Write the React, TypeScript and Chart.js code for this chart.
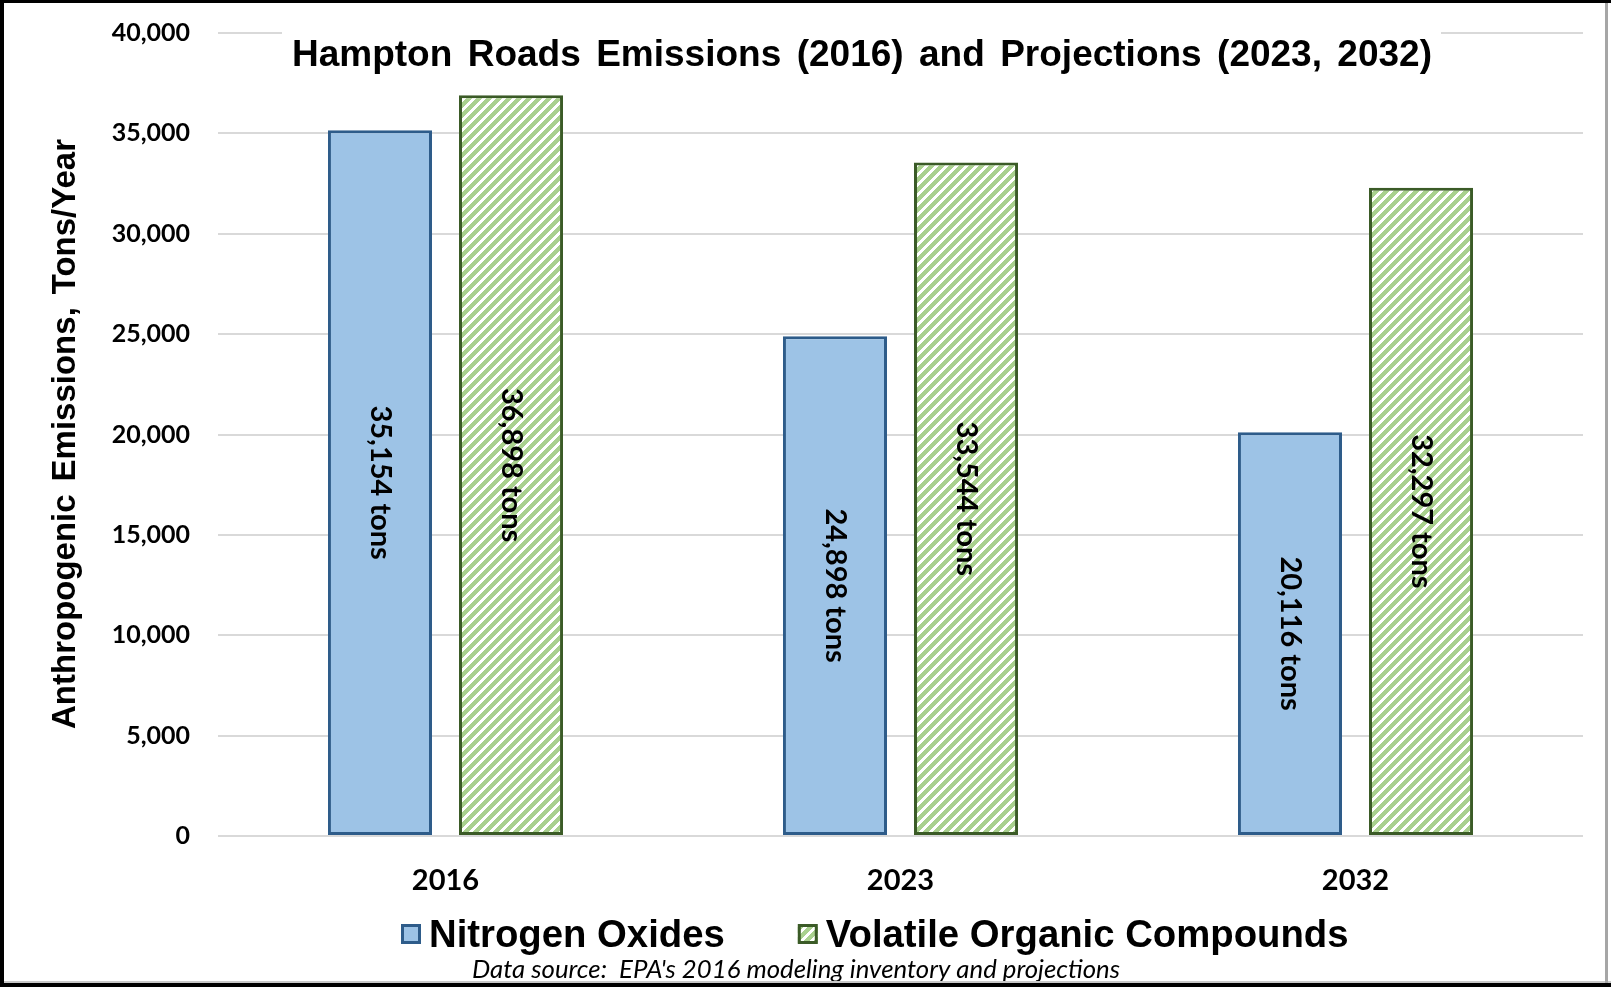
import React, { useEffect, useRef } from 'react';
import { Chart, registerables } from 'chart.js';

Chart.register(...registerables);

const categories = ['2016', '2023', '2032'];
const noxValues = [35154, 24898, 20116];
const vocValues = [36898, 33544, 32297];
const seriesNames = ['Nitrogen Oxides', 'Volatile Organic Compounds'];
const yMin = 0;
const yMax = 40000;
const yStep = 5000;
const chartTitle = 'Hampton Roads Emissions (2016) and Projections (2023, 2032)';
const yAxisTitle = 'Anthropogenic Emissions, Tons/Year';
const sourceNote = "Data source:  EPA's 2016 modeling inventory and projections";
const labelUnit = 'tons';

const W = 1611;
const H = 987;

const NOX_FILL = '#9DC3E6';
const NOX_BORDER = '#2E5C8A';
const VOC_GREEN = [169, 209, 142];
const VOC_BORDER = '#3B5B27';

function makeStripePattern(ctx: CanvasRenderingContext2D) {
  const n = 10;
  const c = document.createElement('canvas');
  c.width = n;
  c.height = n;
  const g = c.getContext('2d')!;
  const img = g.createImageData(n, n);
  for (let y = 0; y < n; y++) {
    for (let x = 0; x < n; x++) {
      const white = (x + y) % n < 4;
      const i = (y * n + x) * 4;
      img.data[i] = white ? 255 : VOC_GREEN[0];
      img.data[i + 1] = white ? 255 : VOC_GREEN[1];
      img.data[i + 2] = white ? 255 : VOC_GREEN[2];
      img.data[i + 3] = 255;
    }
  }
  g.putImageData(img, 0, 0);
  return ctx.createPattern(c, 'repeat')!;
}

function drawSpaced(ctx: CanvasRenderingContext2D, text: string, cx: number, y: number, target: number) {
  const words = text.split(' ');
  const widths = words.map((w) => ctx.measureText(w).width);
  const sum = widths.reduce((a, b) => a + b, 0);
  const gap = words.length > 1 ? (target - sum) / (words.length - 1) : 0;
  let x = cx - target / 2;
  ctx.textAlign = 'left';
  words.forEach((w, i) => {
    ctx.fillText(w, x, y);
    x += widths[i] + gap;
  });
}

const fmt = (v: number) => v.toLocaleString('en-US');

export default function App() {
  const ref = useRef<HTMLCanvasElement | null>(null);

  useEffect(() => {
    const canvas = ref.current!;
    const ctx0 = canvas.getContext('2d')!;
    const stripes = makeStripePattern(ctx0);

    const decor = {
      id: 'decor',
      beforeDraw(chart: any) {
        const ctx = chart.ctx;
        ctx.save();
        ctx.fillStyle = '#ffffff';
        ctx.fillRect(0, 0, W, H);
        ctx.restore();
      },
      afterDatasetsDraw(chart: any) {
        const ctx = chart.ctx;
        ctx.save();
        ctx.font = 'bold 29px Lato, "Noto Sans", sans-serif';
        ctx.fillStyle = '#000000';
        ctx.textAlign = 'center';
        ctx.textBaseline = 'middle';
        chart.data.datasets.forEach((ds: any, di: number) => {
          const meta = chart.getDatasetMeta(di);
          meta.data.forEach((bar: any, i: number) => {
            const cy = (bar.y + bar.base) / 2;
            ctx.save();
            ctx.translate(bar.x, cy);
            ctx.rotate(Math.PI / 2);
            ctx.fillText(`${fmt(ds.data[i])} ${labelUnit}`, 0, 0);
            ctx.restore();
          });
        });
        ctx.restore();
      },
      afterDraw(chart: any) {
        const ctx = chart.ctx;
        ctx.save();
        // title box covering gridline
        ctx.fillStyle = '#ffffff';
        ctx.fillRect(282, 26, 1441 - 282, 52);
        ctx.fillStyle = '#000000';
        ctx.font = 'bold 37px "Liberation Sans", Arial, sans-serif';
        ctx.textBaseline = 'alphabetic';
        drawSpaced(ctx, chartTitle, 862, 66, 1140);

        // y axis title
        ctx.save();
        ctx.translate(75, 434);
        ctx.rotate(-Math.PI / 2);
        ctx.font = 'bold 33px "Liberation Sans", Arial, sans-serif';
        drawSpaced(ctx, yAxisTitle, 0, 0, 590);
        ctx.restore();

        // legend
        ctx.font = 'bold 38.3px "Liberation Sans", Arial, sans-serif';
        ctx.textAlign = 'left';
        ctx.textBaseline = 'alphabetic';
        let x = 401;
        const boxY = 924;
        const box = 20;
        chart.data.datasets.forEach((ds: any) => {
          ctx.fillStyle = ds.backgroundColor;
          ctx.fillRect(x, boxY, box, box);
          ctx.lineWidth = 3;
          ctx.strokeStyle = ds.borderColor;
          ctx.strokeRect(x + 1.5, boxY + 1.5, box - 3, box - 3);
          ctx.fillStyle = '#000000';
          ctx.fillText(ds.label, x + box + 8, 947);
          x += box + 8 + ctx.measureText(ds.label).width + 73;
        });

        // source note
        let size = 22;
        ctx.font = `italic ${size}px Lato, "Noto Sans", sans-serif`;
        const mw = ctx.measureText(sourceNote).width;
        size = (size * 648) / mw;
        ctx.font = `italic ${size.toFixed(2)}px Lato, "Noto Sans", sans-serif`;
        ctx.textAlign = 'center';
        ctx.fillStyle = '#000000';
        ctx.fillText(sourceNote, 796, 978);

        // frame
        ctx.fillStyle = '#000000';
        ctx.fillRect(0, 0, W, 3);
        ctx.fillRect(0, 0, 4, H);
        ctx.fillRect(0, 983, W, 4);
        ctx.fillStyle = '#c8c8c8';
        ctx.fillRect(4, 981, W - 4, 2);
        ctx.fillStyle = '#a6a6a6';
        ctx.fillRect(1605, 3, 3, 980);
        ctx.restore();
      },
    };

    const chart = new Chart(canvas, {
      type: 'bar',
      data: {
        labels: categories,
        datasets: [
          {
            label: seriesNames[0],
            data: noxValues,
            backgroundColor: NOX_FILL,
            borderColor: NOX_BORDER,
            borderWidth: 3,
            borderSkipped: false,
            categoryPercentage: 0.576,
            barPercentage: 0.794,
          },
          {
            label: seriesNames[1],
            data: vocValues,
            backgroundColor: stripes as any,
            borderColor: VOC_BORDER,
            borderWidth: 3,
            borderSkipped: false,
            categoryPercentage: 0.576,
            barPercentage: 0.794,
          },
        ],
      },
      options: {
        responsive: false,
        animation: false,
        devicePixelRatio: 1,
        layout: { padding: { top: 33, right: 28, bottom: 0, left: 0 } },
        plugins: {
          legend: { display: false },
          title: { display: false },
          tooltip: { enabled: false },
        },
        scales: {
          x: {
            grid: { display: false },
            border: { display: false },
            ticks: {
              color: '#000000',
              font: { family: 'Lato, "Noto Sans", sans-serif', size: 29, weight: 'bold' },
              padding: 19,
            },
            afterFit(scale: any) {
              scale.height = 151;
              scale.paddingLeft = 0;
              scale.paddingRight = 0;
            },
          },
          y: {
            min: yMin,
            max: yMax,
            ticks: {
              stepSize: yStep,
              color: '#000000',
              font: { family: 'Lato, "Noto Sans", sans-serif', size: 25, weight: 'bold' },
              padding: 28,
              callback: (v: any) => fmt(Number(v)),
            },
            grid: { color: '#d9d9d9', lineWidth: 2, drawTicks: false },
            border: { display: false },
            afterFit(scale: any) {
              scale.width = 218;
              scale.paddingTop = 0;
              scale.paddingBottom = 0;
            },
          },
        },
      },
      plugins: [decor],
    });

    return () => chart.destroy();
  }, []);

  return (
    <div style={{ position: 'fixed', left: 0, top: 0, width: W, height: H, background: '#fff' }}>
      <canvas ref={ref} width={W} height={H} style={{ display: 'block', width: W, height: H }} />
    </div>
  );
}
